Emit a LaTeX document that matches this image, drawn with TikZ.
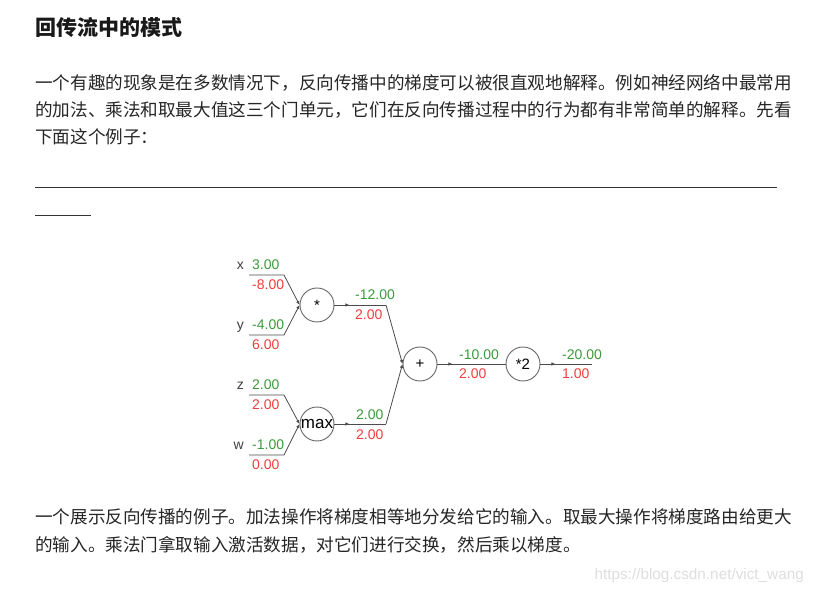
\documentclass[tikz,border=0pt]{standalone}
\usepackage{fontspec}
\newfontfamily\cjk{Noto Sans CJK SC}
\newfontfamily\numfont{Liberation Sans}
\usetikzlibrary{positioning,arrows.meta,decorations.markings}
\definecolor{fwdgreen}{RGB}{60,155,60}
\definecolor{bwdred}{RGB}{240,62,62}
\definecolor{bodytext}{RGB}{38,38,38}
\definecolor{wmgray}{RGB}{222,222,222}

\begin{document}
\begin{tikzpicture}[x=1pt, y=-1pt,
  para/.style={anchor=base west, inner sep=0pt, text=bodytext, font=\cjk\fontsize{17.6}{20}\selectfont},
  heading/.style={para, text=black!90, font=\cjk\bfseries\fontsize{21}{24}\selectfont},
  gate/.style={circle, draw=black!60, line width=0.9pt, minimum size=34pt, inner sep=0pt, font=\numfont\fontsize{15}{15}\selectfont},
  fwd/.style={anchor=base west, inner sep=0pt, text=fwdgreen, font=\numfont\fontsize{14}{14}\selectfont},
  bwd/.style={fwd, text=bwdred},
  varname/.style={anchor=base east, inner sep=0pt, text=black!75, font=\numfont\fontsize{14}{14}\selectfont},
  wire/.style={draw=black!70, line width=0.8pt},
  into/.style={wire, -{Latex[length=4pt,width=3.5pt]}},
  outof/.style={wire, postaction={decorate}, decoration={markings, mark=at position 15pt with {\arrow{Latex[length=4pt,width=3.5pt]}}}},
  rule/.style={draw=black!80, line width=1pt}
  ]
  \fill[white] (0,0) rectangle (815,593);
  \useasboundingbox (0,0) rectangle (815,593);

  % Text above the graph
  \node[heading] (title) at (35,35.5) {回传流中的模式};
  \node[para] (p1) at (35,89.2) {一个有趣的现象是在多数情况下，反向传播中的梯度可以被很直观地解释。例如神经网络中最常用};
  \node[para] (p2) at (35,116.2) {的加法、乘法和取最大值这三个门单元，它们在反向传播过程中的行为都有非常简单的解释。先看};
  \node[para] (p3) at (35,143.2) {下面这个例子：};
  \coordinate (r1s) at (35,188);
  \coordinate (r1e) at (777,188);
  \coordinate (r2s) at (35,216);
  \coordinate (r2e) at (91,216);
  \draw[rule] (r1s) -- (r1e);
  \draw[rule] (r2s) -- (r2e);

  % Gates
  \node[gate] (mul) at (317,305) {*};
  \node[gate, font=\numfont\fontsize{17}{17}\selectfont] (max) at (317,424) {max};
  \node[gate] (add) at (420,364) {+};
  \node[gate] (dbl) at (523,364) {*2};

  % Inputs x, y -> *
  \node[varname] (xname) at (244,270) {x};
  \node[fwd] (xval) at (252,270) {3.00};
  \node[bwd] (xgrad) at (252,290) {-8.00};
  \coordinate (xs) at (249,275);
  \coordinate (xk) at (284,275);
  \draw[into] (xs) -- (xk) -- (mul.west);

  \node[varname] (yname) at (244,330) {y};
  \node[fwd] (yval) at (252,330) {-4.00};
  \node[bwd] (ygrad) at (252,350) {6.00};
  \coordinate (ys) at (249,335);
  \coordinate (yk) at (284,335);
  \draw[into] (ys) -- (yk) -- (mul.west);

  % Inputs z, w -> max
  \node[varname] (zname) at (244,390) {z};
  \node[fwd] (zval) at (252,390) {2.00};
  \node[bwd] (zgrad) at (252,410) {2.00};
  \coordinate (zs) at (249,395);
  \coordinate (zk) at (284,395);
  \draw[into] (zs) -- (zk) -- (max.west);

  \node[varname] (wname) at (244,450) {w};
  \node[fwd] (wval) at (252,450) {-1.00};
  \node[bwd] (wgrad) at (252,470) {0.00};
  \coordinate (ws) at (249,455);
  \coordinate (wk) at (284,455);
  \draw[into] (ws) -- (wk) -- (max.west);

  % * and max -> +
  \coordinate (mk) at (386,305);
  \draw[outof] (mul.east) -- (mk);
  \draw[into] (mk) -- (add.west);
  \node[fwd] (mulval) at (355,300) {-12.00};
  \node[bwd] (mulgrad) at (355,320) {2.00};

  \coordinate (xk2) at (386,424);
  \draw[outof] (max.east) -- (xk2);
  \draw[into] (xk2) -- (add.west);
  \node[fwd] (maxval) at (356,420) {2.00};
  \node[bwd] (maxgrad) at (356,440) {2.00};

  % + -> *2 -> output
  \draw[outof] (add.east) -- (dbl.west);
  \node[fwd] (addval) at (459,360) {-10.00};
  \node[bwd] (addgrad) at (459,379) {2.00};

  \coordinate (dk) at (592,364);
  \draw[outof] (dbl.east) -- (dk);
  \node[fwd] (dblval) at (562,360) {-20.00};
  \node[bwd] (dblgrad) at (562,379) {1.00};

  % Caption below the graph
  \node[para] (c1) at (35,523.7) {一个展示反向传播的例子。加法操作将梯度相等地分发给它的输入。取最大操作将梯度路由给更大};
  \node[para] (c2) at (35,551.7) {的输入。乘法门拿取输入激活数据，对它们进行交换，然后乘以梯度。};
  \node[anchor=base east, inner sep=0pt, text=wmgray, font=\numfont\fontsize{15.3}{15}\selectfont] (wm) at (804,580) {https://blog.csdn.net/vict\_wang};
\end{tikzpicture}
\end{document}
